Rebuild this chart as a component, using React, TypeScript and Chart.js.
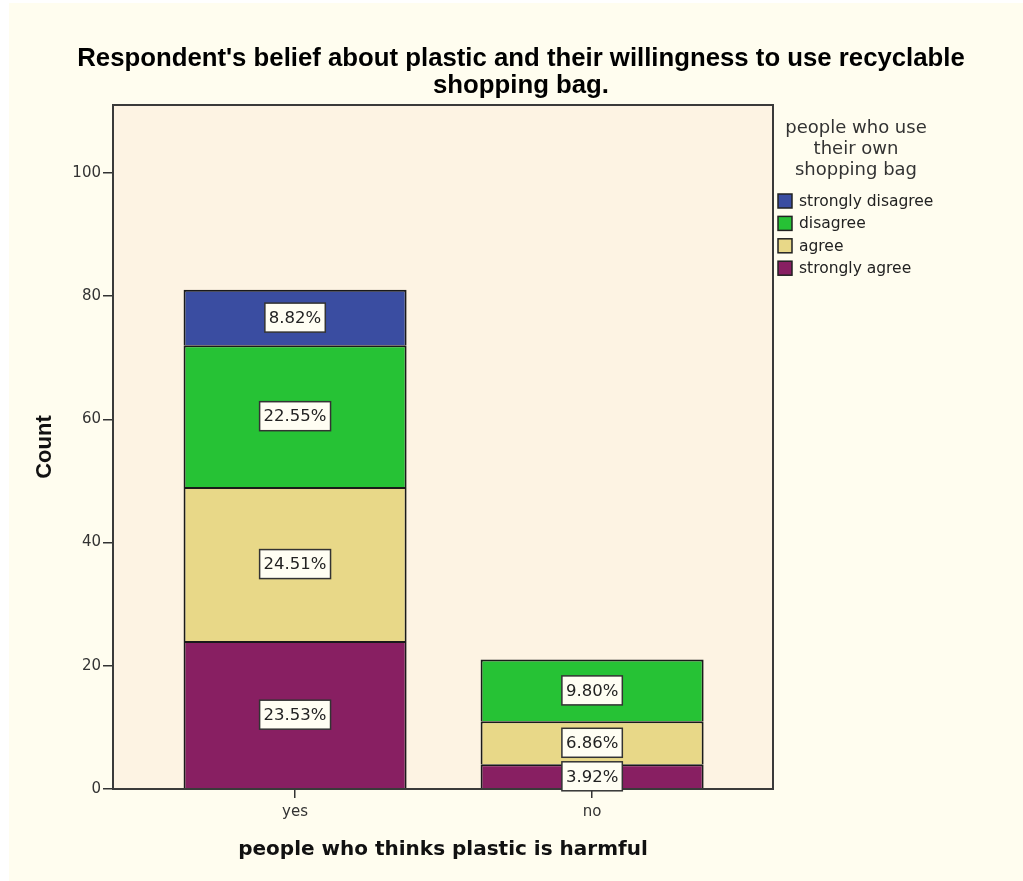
import React, { useEffect, useRef } from "react";
import { Chart, registerables } from "chart.js";

Chart.register(...registerables);

const categories = ["yes", "no"];
const seriesNames = ["strongly agree", "agree", "disagree", "strongly disagree"];
const stronglyAgree = [24, 4];
const agree = [25, 7];
const disagree = [23, 10];
const stronglyDisagree = [9, 0];
const seriesColors = ["#881F62", "#E8D888", "#26C235", "#3A4DA1"];
const yTickValues = [0, 20, 40, 60, 80, 100];
const titleLines = [
  "Respondent's belief about plastic and their willingness to use recyclable",
  "shopping bag.",
];
const legendTitleLines = ["people who use", "their own", "shopping bag"];
const xTitle = "people who thinks plastic is harmful";
const yTitle = "Count";

const seriesValues = [stronglyAgree, agree, disagree, stronglyDisagree];
const grandTotal = seriesValues.reduce(
  (s, arr) => s + arr.reduce((a, b) => a + b, 0),
  0
);

const W = 1014;
const H = 878;

export default function App() {
  const ref = useRef<HTMLCanvasElement | null>(null);

  useEffect(() => {
    if (!ref.current) return;

    const bgPlugin = {
      id: "plotBg",
      beforeDraw(chart: any) {
        const { ctx, chartArea: a } = chart;
        ctx.save();
        ctx.fillStyle = "#FDF3E3";
        ctx.fillRect(a.left, a.top, a.right - a.left, a.bottom - a.top);
        ctx.restore();
      },
      afterDatasetsDraw(chart: any) {
        const { ctx, chartArea: a } = chart;
        ctx.save();
        ctx.strokeStyle = "#3a3a3a";
        ctx.lineWidth = 2;
        ctx.strokeRect(a.left, a.top, a.right - a.left, a.bottom - a.top);
        ctx.restore();
      },
      afterDraw(chart: any) {
        const { ctx } = chart;
        ctx.save();
        // data labels
        ctx.font = "16.5px 'DejaVu Sans'";
        ctx.textAlign = "center";
        ctx.textBaseline = "middle";
        chart.data.datasets.forEach((ds: any, di: number) => {
          const meta = chart.getDatasetMeta(di);
          meta.data.forEach((el: any, i: number) => {
            const v = seriesValues[di][i];
            if (!v) return;
            const txt = ((v / grandTotal) * 100).toFixed(2) + "%";
            const cx = el.x;
            const cy = (el.y + el.base) / 2;
            const tw = ctx.measureText(txt).width;
            const bw = tw + 8;
            const bh = 29;
            ctx.fillStyle = "#FFFEF3";
            ctx.fillRect(cx - bw / 2, cy - bh / 2, bw, bh);
            ctx.strokeStyle = "#333";
            ctx.lineWidth = 1.5;
            ctx.strokeRect(cx - bw / 2, cy - bh / 2, bw, bh);
            ctx.fillStyle = "#222";
            ctx.fillText(txt, cx, cy + 1);
          });
        });
        // title
        ctx.fillStyle = "#000";
        ctx.font = "bold 25px 'Liberation Sans'";
        ctx.textAlign = "center";
        titleLines.forEach((t, i) => {
          ctx.save();
          ctx.translate(512, 56 + i * 27);
          ctx.scale(1.03, 1);
          ctx.fillText(t, 0, 0);
          ctx.restore();
        });
        // legend
        ctx.fillStyle = "#333";
        ctx.font = "18px 'DejaVu Sans'";
        legendTitleLines.forEach((t, i) => ctx.fillText(t, 847, 125 + i * 21));
        ctx.font = "15.5px 'DejaVu Sans'";
        ctx.textAlign = "left";
        const order = [3, 2, 1, 0];
        order.forEach((si, k) => {
          const y = 198 + k * 22.4;
          ctx.fillStyle = seriesColors[si];
          ctx.fillRect(769, y - 7, 14, 14);
          ctx.strokeStyle = "#222";
          ctx.lineWidth = 1.5;
          ctx.strokeRect(769, y - 7, 14, 14);
          ctx.fillStyle = "#222";
          ctx.fillText(seriesNames[si], 790, y + 1);
        });
        ctx.restore();
      },
    };

    const chart = new Chart(ref.current, {
      type: "bar",
      data: {
        datasets: seriesNames.map((name, si) => ({
          label: name,
          data: seriesValues[si].map((v, i) => ({ x: i, y: v === 0 ? null : v })),
          backgroundColor: seriesColors[si],
          borderColor: "#1a1a1a",
          borderWidth: 2,
          borderSkipped: "start",
          barPercentage: 0.751,
          categoryPercentage: 1,
        })) as any,
      },
      plugins: [bgPlugin],
      options: {
        responsive: false,
        animation: false,
        devicePixelRatio: 1,
        layout: { padding: { top: 102, right: 250, bottom: 0, left: 0 } },
        plugins: {
          legend: { display: false },
          title: { display: false },
          tooltip: { enabled: false },
        },
        scales: {
          x: {
            type: "linear",
            stacked: true,
            min: -0.613,
            max: 1.609,
            offset: false,
            afterBuildTicks: (scale: any) => {
              scale.ticks = categories.map((_, i) => ({ value: i }));
            },
            afterFit: (scale: any) => {
              scale.height = 92;
            },
            ticks: {
              callback: (v: any) => categories[v as number] ?? "",
              font: { family: "'DejaVu Sans'", size: 15 },
              color: "#333",
              padding: 5,
              maxRotation: 0,
              autoSkip: false,
            },
            grid: {
              offset: false,
              drawOnChartArea: false,
              tickLength: 9,
              color: "#333",
              lineWidth: 1.5,
            },
            border: { display: false },
            title: {
              display: true,
              text: xTitle,
              font: { family: "'DejaVu Sans'", size: 20, weight: "bold" },
              color: "#111",
              padding: { top: 0, bottom: 19 },
            },
          },
          y: {
            stacked: true,
            min: 0,
            max: 111,
            afterBuildTicks: (scale: any) => {
              scale.ticks = yTickValues.map((v) => ({ value: v }));
            },
            afterFit: (scale: any) => {
              scale.width = 104;
            },
            ticks: {
              font: { family: "'DejaVu Sans'", size: 15 },
              color: "#333",
              padding: 2,
              includeBounds: false,
            },
            grid: {
              drawOnChartArea: false,
              tickLength: 10,
              color: "#333",
              lineWidth: 1.5,
            },
            border: { display: false },
            title: {
              display: true,
              text: yTitle,
              font: { family: "'Liberation Sans'", size: 22, weight: "bold" },
              color: "#111",
              padding: { top: 23, bottom: 0 },
            },
          },
        },
      } as any,
    });

    return () => chart.destroy();
  }, []);

  return (
    <div
      style={{
        position: "absolute",
        left: 9,
        top: 3,
        width: W,
        height: H,
        background: "#FFFDEF",
      }}
    >
      <canvas ref={ref} width={W} height={H} style={{ display: "block", width: W, height: H }} />
    </div>
  );
}
